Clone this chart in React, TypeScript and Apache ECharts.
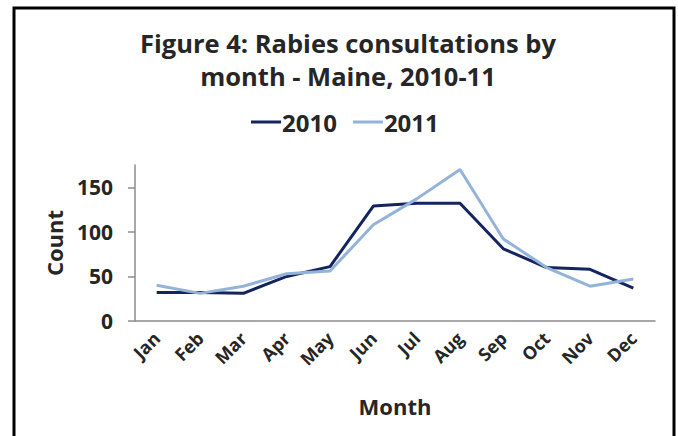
import React, { useEffect, useRef } from "react";
import * as echarts from "echarts";

const months = ["Jan", "Feb", "Mar", "Apr", "May", "Jun", "Jul", "Aug", "Sep", "Oct", "Nov", "Dec"];
const counts2010 = [32, 32, 31, 50, 61, 129, 132, 132, 81, 60, 58, 37];
const counts2011 = [40, 31, 39, 53, 56, 108, 137, 170, 92, 60, 39, 47];
const yTicks = [0, 50, 100, 150];

const FONT = "'Open Sans', Lato, sans-serif";
const TEXT = "#262626";

export default function App() {
  const ref = useRef<HTMLDivElement>(null);
  useEffect(() => {
    const chart = echarts.init(ref.current!, null, { renderer: "svg" });
    chart.setOption({
      animation: false,
      backgroundColor: "#ffffff",
      textStyle: { fontFamily: FONT },
      title: {
        text: "Figure 4: Rabies consultations by\nmonth - Maine, 2010-11",
        left: 343,
        textAlign: "center",
        top: 21,
        textStyle: { fontFamily: FONT, fontWeight: "bold", fontSize: 25.5, lineHeight: 33, color: TEXT },
      },
      legend: {
        top: 105,
        left: 246,
        itemWidth: 30,
        itemHeight: 3,
        itemGap: 16,
        icon: "rect",
        textStyle: { fontFamily: FONT, fontWeight: "bold", fontSize: 24, color: TEXT, padding: [0, 0, 0, -4] },
        data: ["2010", "2011"],
      },
      grid: { left: 135, right: 23, top: 165, bottom: 115 },
      xAxis: {
        type: "category",
        data: months,
        boundaryGap: true,
        name: "Month",
        nameLocation: "middle",
        nameGap: 74,
        nameTextStyle: { fontFamily: FONT, fontWeight: "bold", fontSize: 22, color: TEXT },
        axisLine: { lineStyle: { color: "#8c8c8c", width: 1.5 } },
        axisTick: { alignWithLabel: false, length: 6, lineStyle: { color: "#8c8c8c", width: 1.5 } },
        axisLabel: { rotate: 45, fontFamily: FONT, fontWeight: "bold", fontSize: 18, color: TEXT, margin: 14 },
      },
      yAxis: {
        type: "value",
        min: 0,
        max: 175,
        name: "Count",
        nameLocation: "middle",
        nameRotate: 90,
        nameGap: 70,
        nameTextStyle: { fontFamily: FONT, fontWeight: "bold", fontSize: 22, color: TEXT },
        splitLine: { show: false },
        axisLine: { show: true, lineStyle: { color: "#8c8c8c", width: 1.5 } },
        axisTick: { show: true, length: 7, customValues: yTicks, lineStyle: { color: "#8c8c8c", width: 1.5 } },
        axisLabel: { customValues: yTicks, fontFamily: FONT, fontWeight: "bold", fontSize: 21, color: TEXT, margin: 22 },
      },
      series: [
        {
          name: "2010",
          type: "line",
          data: counts2010,
          symbol: "none",
          lineStyle: { color: "#14245e", width: 3 },
          itemStyle: { color: "#14245e" },
        },
        {
          name: "2011",
          type: "line",
          data: counts2011,
          symbol: "none",
          lineStyle: { color: "#94b3d9", width: 3 },
          itemStyle: { color: "#94b3d9" },
        },
      ],
      graphic: [
        {
          type: "rect",
          shape: { x: 14, y: 8, width: 660, height: 450 },
          style: { fill: "none", stroke: "#000", lineWidth: 3 },
          silent: true,
        },
      ],
    });
    return () => chart.dispose();
  }, []);
  return <div ref={ref} style={{ position: "absolute", left: 0, top: 0, width: 678, height: 436 }} />;
}
